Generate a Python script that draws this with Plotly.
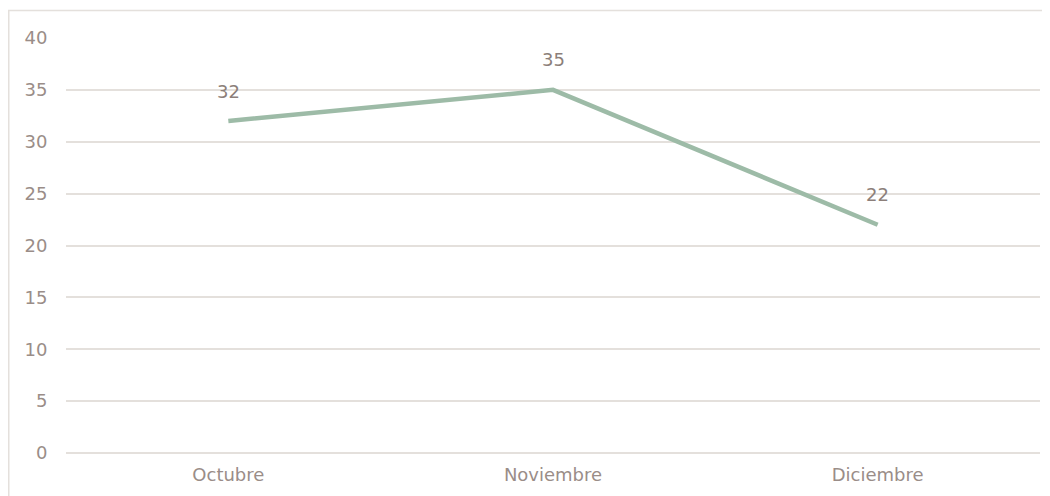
import plotly.graph_objects as go

categories = ["Octubre", "Noviembre", "Diciembre"]
values = [32, 35, 22]
y_ticks = [0, 5, 10, 15, 20, 25, 30, 35, 40]

LINE = "#9dbba7"
TEXT = "#9a8d88"
LABEL = "#8c7f7a"
GRID = "#e4e0dc"
FONT = "DejaVu Sans, sans-serif"

xs = list(range(len(categories)))

fig = go.Figure()
fig.add_trace(go.Scatter(
    x=xs, y=values, mode="lines",
    line=dict(color=LINE, width=4.5),
    cliponaxis=False, showlegend=False, hoverinfo="skip",
))
for xi, v in zip(xs, values):
    fig.add_annotation(x=xi, y=v, text=str(v), showarrow=False,
                       yshift=30, font=dict(family=FONT, size=18, color=LABEL))

# figure border (page has an 8px body offset)
pl, pr, pt, pb = 58, 18, 30, 51.4
W, H = 1050, 496
pw, ph = W - pl - pr, H - pt - pb
fig.add_shape(type="rect", xref="paper", yref="paper",
              x0=(0.75 - pl) / pw, x1=(W + 20 - pl) / pw,
              y0=-(pb + 20) / ph, y1=(H - pb - 2.5) / ph,
              line=dict(color=GRID, width=1.5), fillcolor="rgba(0,0,0,0)", layer="below")

fig.update_layout(
    width=W, height=H,
    margin=dict(l=pl, r=pr, t=pt, b=pb),
    paper_bgcolor="white", plot_bgcolor="white",
    font=dict(family=FONT, size=18, color=TEXT),
    xaxis=dict(range=[-0.5, 2.5], tickvals=xs, ticktext=categories,
               showgrid=False, showline=False, zeroline=False,
               ticks="outside", ticklen=5, tickcolor="rgba(0,0,0,0)",
               tickfont=dict(size=18, color=TEXT), fixedrange=True, automargin=False),
    yaxis=dict(range=[0, 40], tickvals=y_ticks, showgrid=True, gridcolor=GRID,
               gridwidth=1.5, zeroline=True, zerolinecolor=GRID, zerolinewidth=1.5,
               showline=False,
               ticks="outside", ticklen=14, tickcolor="rgba(0,0,0,0)",
               tickfont=dict(size=18, color=TEXT), fixedrange=True, automargin=False),
)

fig.write_html("out.html")
